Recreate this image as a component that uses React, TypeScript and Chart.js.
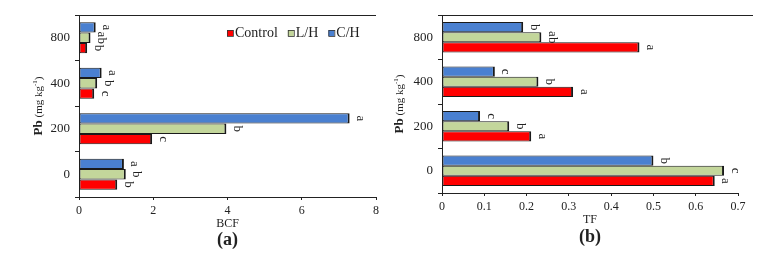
import React, { useEffect, useRef } from 'react';
import { Chart, registerables } from 'chart.js';
Chart.register(...registerables);

const categories = ['0', '200', '400', '800'];
const seriesNames = ['Control', 'L/H', 'C/H'];
const seriesColors = ['#ff0000', '#c3d69b', '#4a80d0'];

const bcfControl = [1.03, 1.97, 0.41, 0.22];
const bcfLH = [1.26, 3.97, 0.49, 0.31];
const bcfCH = [1.21, 7.29, 0.61, 0.45];
const bcfLettersControl = ['b', 'c', 'c', 'b'];
const bcfLettersLH = ['b', 'b', 'b', 'ab'];
const bcfLettersCH = ['a', 'a', 'a', 'a'];

const tfControl = [0.645, 0.211, 0.31, 0.467];
const tfLH = [0.667, 0.159, 0.228, 0.235];
const tfCH = [0.5, 0.09, 0.125, 0.192];
const tfLettersControl = ['a', 'a', 'a', 'a'];
const tfLettersLH = ['c', 'b', 'b', 'ab'];
const tfLettersCH = ['b', 'c', 'c', 'b'];

const SERIF = '"Liberation Serif", "Times New Roman", serif';

type Opts = {
  values: number[][];
  letters: string[][];
  xMax: number;
  xStep: number;
  xTitle: string;
  panel: string;
  yAxisWidth: number;
  xAxisHeight: number;
  padRight: number;
  topExtra: number;
  showLegend: boolean;
  yTitleX: number;
  xTitleY: number;
  panelY: number;
};

// datasets are drawn in reverse order so that Control sits at the bottom of each group
const ORDER = [2, 1, 0];

function makeConfig(o: Opts): any {
  const textPlugin = {
    id: 'texts',
    afterDraw(chart: any) {
      const ctx = chart.ctx;
      const ca = chart.chartArea;
      ctx.save();
      // top border
      ctx.strokeStyle = '#222';
      ctx.lineWidth = 1;
      ctx.beginPath();
      ctx.moveTo(ca.left, Math.round(ca.top) + 0.5);
      ctx.lineTo(ca.right + o.topExtra, Math.round(ca.top) + 0.5);
      ctx.stroke();

      // data letters
      ctx.fillStyle = '#222';
      ctx.font = '13px ' + SERIF;
      ctx.textAlign = 'center';
      ctx.textBaseline = 'middle';
      chart.data.datasets.forEach((ds: any, di: number) => {
        const meta = chart.getDatasetMeta(di);
        const si = ds.seriesIndex;
        meta.data.forEach((bar: any, i: number) => {
          const t = o.letters[si][i];
          ctx.save();
          ctx.translate(bar.x + 11, bar.y);
          ctx.rotate(Math.PI / 2);
          ctx.fillText(t, 0, 0);
          ctx.restore();
        });
      });

      // x title and panel label
      const cx = (ca.left + ca.right) / 2;
      ctx.font = '12px ' + SERIF;
      ctx.fillText(o.xTitle, cx, o.xTitleY);
      ctx.font = 'bold 18px ' + SERIF;
      ctx.fillText('(' + o.panel + ')', cx, o.panelY);

      // y title
      const cy = (ca.top + ca.bottom) / 2;
      ctx.save();
      ctx.translate(o.yTitleX, cy);
      ctx.rotate(-Math.PI / 2);
      ctx.textAlign = 'left';
      ctx.textBaseline = 'middle';
      const parts: [string, string, number][] = [
        ['Pb', 'bold 13px ' + SERIF, 0],
        [' (mg kg', '11px ' + SERIF, 0],
        ['-1', '7px ' + SERIF, -4],
        [')', '11px ' + SERIF, 0],
      ];
      let total = 0;
      parts.forEach(([s, f]) => {
        ctx.font = f;
        total += ctx.measureText(s).width;
      });
      let x = -total / 2;
      parts.forEach(([s, f, dy]) => {
        ctx.font = f;
        ctx.fillText(s, x, dy);
        x += ctx.measureText(s).width;
      });
      ctx.restore();

      // legend
      if (o.showLegend) {
        ctx.font = '14px ' + SERIF;
        ctx.textAlign = 'left';
        ctx.textBaseline = 'middle';
        const ly = 33;
        let lx = ca.left + 148;
        seriesNames.forEach((name, si) => {
          ctx.fillStyle = seriesColors[si];
          ctx.fillRect(lx, ly - 3, 6, 6);
          ctx.strokeStyle = '#333';
          ctx.lineWidth = 0.8;
          ctx.strokeRect(lx + 0.5, ly - 2.5, 6, 6);
          ctx.fillStyle = '#222';
          ctx.fillText(name, lx + 8, ly);
          lx += 8 + ctx.measureText(name).width + 10;
        });
      }
      ctx.restore();
    },
  };

  return {
    type: 'bar',
    data: {
      labels: categories,
      datasets: ORDER.map((si) => ({
        label: seriesNames[si],
        seriesIndex: si,
        data: o.values[si],
        backgroundColor: seriesColors[si],
        borderColor: '#1a1a1a',
        borderWidth: { top: 1, bottom: 1, left: 1, right: 2 },
        borderSkipped: false,
        categoryPercentage: 0.68,
        barPercentage: 1.0,
      })),
    },
    options: {
      indexAxis: 'y',
      responsive: false,
      animation: false,
      devicePixelRatio: 1,
      layout: { padding: { top: 15, right: o.padRight, left: 0, bottom: 0 } },
      plugins: { legend: { display: false }, tooltip: { enabled: false } },
      scales: {
        y: {
          type: 'category',
          reverse: true,
          grid: { drawOnChartArea: false, drawTicks: true, tickLength: 4, offset: true, color: '#222' },
          border: { display: true, color: '#222', width: 1 },
          ticks: { font: { family: SERIF, size: 13 }, color: '#222', padding: 5 },
          afterFit: (s: any) => { s.width = o.yAxisWidth; },
        },
        x: {
          min: 0,
          max: o.xMax,
          grid: { drawOnChartArea: false, drawTicks: true, tickLength: 3, color: '#222' },
          border: { display: true, color: '#222', width: 1 },
          ticks: { stepSize: o.xStep, font: { family: SERIF, size: 12 }, color: '#222', padding: 4 },
          afterFit: (s: any) => { s.height = o.xAxisHeight; },
        },
      },
    },
    plugins: [textPlugin],
  };
}

function Panel({ opts }: { opts: Opts }) {
  const ref = useRef<HTMLCanvasElement>(null);
  useEffect(() => {
    const chart = new Chart(ref.current as HTMLCanvasElement, makeConfig(opts));
    return () => chart.destroy();
  }, []);
  return <canvas ref={ref} width={390} height={259} style={{ display: 'block', width: 390, height: 259 }} />;
}

export default function App() {
  const left: Opts = {
    values: [bcfControl, bcfLH, bcfCH],
    letters: [bcfLettersControl, bcfLettersLH, bcfLettersCH],
    xMax: 8,
    xStep: 2,
    xTitle: 'BCF',
    panel: 'a',
    yAxisWidth: 79,
    xAxisHeight: 62,
    padRight: 14,
    topExtra: 0,
    showLegend: true,
    yTitleX: 39,
    xTitleY: 224,
    panelY: 240,
  };
  const right: Opts = {
    values: [tfControl, tfLH, tfCH],
    letters: [tfLettersControl, tfLettersLH, tfLettersCH],
    xMax: 0.7,
    xStep: 0.1,
    xTitle: 'TF',
    panel: 'b',
    yAxisWidth: 52,
    xAxisHeight: 66,
    padRight: 42,
    topExtra: 15,
    showLegend: false,
    yTitleX: 10,
    xTitleY: 220,
    panelY: 237,
  };
  return (
    <div style={{ position: 'absolute', left: 0, top: 0, width: 780, height: 259, display: 'flex', background: '#fff' }}>
      <Panel opts={left} />
      <Panel opts={right} />
    </div>
  );
}
